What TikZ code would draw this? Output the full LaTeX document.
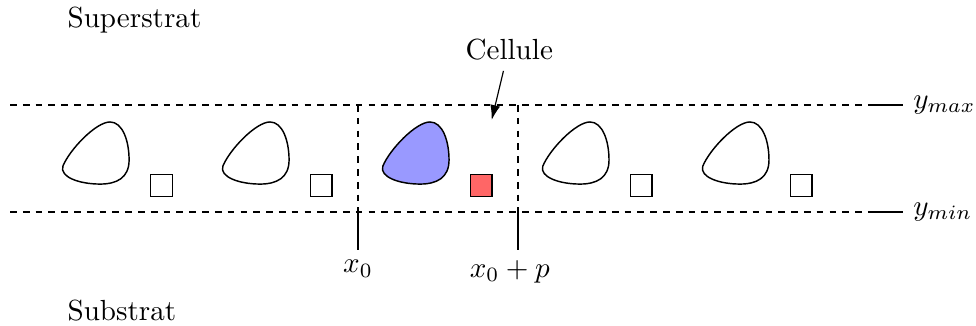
\documentclass[tikz,border=0pt]{standalone}
\usepackage{tikz}
\usetikzlibrary{positioning,arrows.meta,calc}
\definecolor{CellBlue}{HTML}{9999FF}
\definecolor{CellRed}{HTML}{FF6666}

\begin{document}
\begin{tikzpicture}[
  >={Latex[length=1.8mm, width=1.2mm]},
  bound/.style={dash pattern=on 2.3pt off 2.1pt, line width=0.4pt},
  motif/.style={draw=black, line width=0.5pt},
  pad/.style={draw=black, line width=0.5pt, minimum size=0.26cm, inner sep=0pt},
  lbl/.style={inner sep=0pt},
]
\useasboundingbox (0,0) rectangle (11.787,3.937);

% ---------- Layer limits ----------
\coordinate (tl) at (0.121,2.669);
\coordinate (tr) at (10.568,2.669);
\coordinate (bl) at (0.121,1.377);
\coordinate (br) at (10.568,1.377);
\node[anchor=west] (ymax) at (10.906,2.669) {$y_{max}$};
\node[anchor=west] (ymin) at (10.906,1.377) {$y_{min}$};
\draw[bound] (tl) -- (tr);
\draw[bound] (bl) -- (br);
\draw (tr) -- (ymax);
\draw (br) -- (ymin);

% ---------- Media ----------
\node[lbl, anchor=base west] (sup) at (0.809,3.599) {Superstrat};
\node[lbl, anchor=base west] (sub) at (0.809,0.072) {Substrat};

% ---------- Unit cell ----------
\coordinate (x0top) at (4.324,2.669);
\coordinate (x0bot) at (4.324,1.377);
\coordinate (x0end) at (4.324,0.918);
\coordinate (xptop) at (6.256,2.669);
\coordinate (xpbot) at (6.256,1.377);
\coordinate (xpend) at (6.256,0.918);
\draw[bound] (x0top) -- (x0bot);
\draw (x0bot) -- (x0end);
\draw[bound] (xptop) -- (xpbot);
\draw (xpbot) -- (xpend);
\node[below] (x0lab) at (x0end) {$x_0$};
\node[below] (xplab) at ([xshift=-0.1cm]xpend) {$x_0+p$};

\node[anchor=base west] (cell) at (5.499,3.213) {Cellule};
\coordinate (celltip) at (5.938,2.488);
\draw[->] ([xshift=-0.07cm]cell.south) -- (celltip);

% ---------- Periodic motifs ----------
\foreach \i/\fb/\fs in {0/white/white,1/white/white,2/CellBlue/CellRed,3/white/white,4/white/white}{
  \begin{scope}[shift={(1.159+1.932*\i,2.089)}]
    \draw[motif, fill=\fb] (-0.40,-0.16)
      .. controls (-0.32,0.04) and (0.00,0.375) .. (0.17,0.375)
      .. controls (0.32,0.375) and (0.40,0.15) .. (0.40,-0.085)
      .. controls (0.40,-0.30) and (0.25,-0.375) .. (0.05,-0.375)
      .. controls (-0.20,-0.375) and (-0.44,-0.29) .. cycle;
  \end{scope}
  \node[pad, fill=\fs] (sq\i) at (1.950+1.932*\i,1.697) {};
}

\end{tikzpicture}
\end{document}
